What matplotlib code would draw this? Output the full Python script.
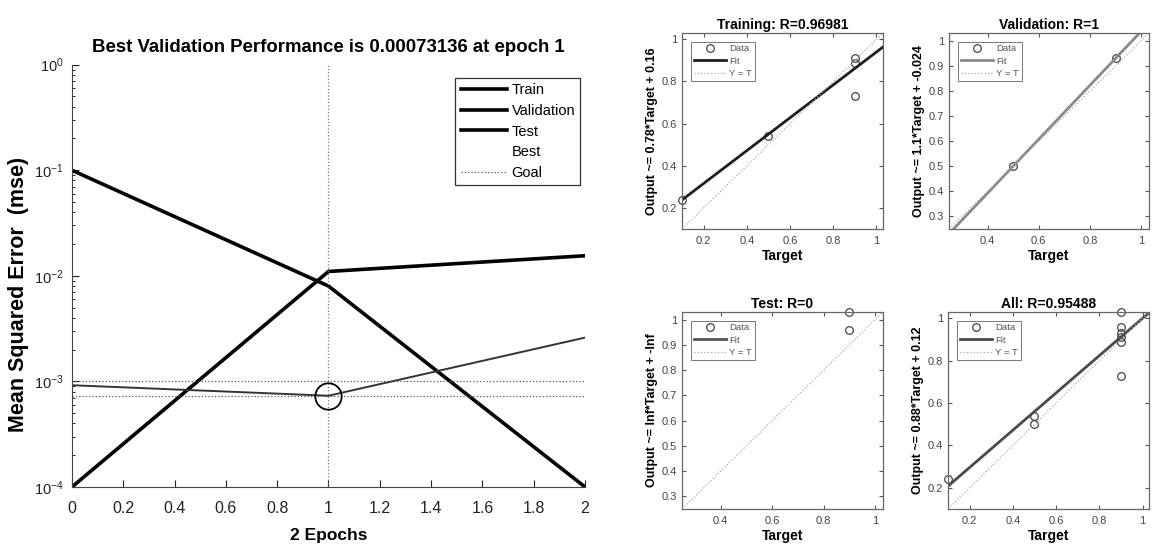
import matplotlib
matplotlib.use("Agg")
import matplotlib.pyplot as plt
import numpy as np
from matplotlib.ticker import LogLocator, FixedLocator
from matplotlib.lines import Line2D

plt.rcParams['font.family'] = ['Liberation Sans', 'DejaVu Sans']

# ---------------- data: performance plot ----------------
epochs = [0, 1, 2]
train_mse = [0.1, 0.0080, 0.0001]
val_mse = [0.0001, 0.011, 0.0155]
test_mse = [0.00092, 0.00073136, 0.0026]
best_epoch = 1
best_perf = 0.00073136
goal = 0.001
perf_xticks = [0, 0.2, 0.4, 0.6, 0.8, 1, 1.2, 1.4, 1.6, 1.8, 2]

# ---------------- data: regression plots ----------------
train_t = [0.1, 0.5, 0.9, 0.9, 0.9]
train_y = [0.24, 0.54, 0.73, 0.89, 0.91]
val_t = [0.5, 0.9]
val_y = [0.50, 0.93]
test_t = [0.9, 0.9]
test_y = [0.96, 1.03]
all_t = train_t + val_t + test_t
all_y = train_y + val_y + test_y

panel_titles = ["Training: R=0.96981", "Validation: R=1", "Test: R=0", "All: R=0.95488"]
panel_ylabels = ["Output ~= 0.78*Target + 0.16", "Output ~= 1.1*Target + -0.024",
                 "Output ~= Inf*Target + -Inf", "Output ~= 0.88*Target + 0.12"]
panel_targets = [train_t, val_t, test_t, all_t]
panel_outputs = [train_y, val_y, test_y, all_y]
fit_slopes = [0.78, 1.075, None, 0.88]
fit_intercepts = [0.16, -0.0375, None, 0.12]
panel_limits = [(0.1, 1.03), (0.25, 1.03), (0.25, 1.03), (0.1, 1.03)]
panel_xticks = [[0.2, 0.4, 0.6, 0.8, 1], [0.4, 0.6, 0.8, 1],
                [0.4, 0.6, 0.8, 1], [0.2, 0.4, 0.6, 0.8, 1]]
panel_yticks = [[0.2, 0.4, 0.6, 0.8, 1], [0.3, 0.4, 0.5, 0.6, 0.7, 0.8, 0.9, 1],
                [0.3, 0.4, 0.5, 0.6, 0.7, 0.8, 0.9, 1], [0.2, 0.4, 0.6, 0.8, 1]]
fit_colors = ["#1e1e1e", "#8a8a8a", "#555555", "#4a4a4a"]

fig = plt.figure(figsize=(11.53, 5.52), dpi=100)

# ---------------- performance axes ----------------
ax = fig.add_axes([0.0624, 0.1178, 0.445, 0.765])
ax.set_yscale('log')
l1, = ax.plot(epochs, train_mse, color='black', lw=2.6, label='Train')
l2, = ax.plot(epochs, val_mse, color='black', lw=2.6, label='Validation')
l3, = ax.plot(epochs, test_mse, color='#333333', lw=1.4)
ax.axvline(best_epoch, color='#777777', lw=0.9, ls=':')
ax.axhline(best_perf, color='#555555', lw=0.9, ls=':')
l5 = ax.axhline(goal, color='#555555', lw=0.9, ls=':', label='Goal')
ax.plot([best_epoch], [best_perf], marker='o', ms=19, mfc='none', mec='black', mew=1.3)
ax.set_xlim(0, 2)
ax.set_ylim(1e-4, 1)
ax.xaxis.set_major_locator(FixedLocator(perf_xticks))
ax.set_xticklabels([('%g' % v) for v in perf_xticks])
ax.yaxis.set_major_locator(LogLocator(base=10, numticks=10))
ax.yaxis.set_minor_locator(LogLocator(base=10, subs=np.arange(2, 10), numticks=10))
ax.tick_params(direction='in', labelsize=11.5, colors='#222222', length=5,
               top=False, right=False)
ax.tick_params(axis='x', pad=10)
ax.tick_params(axis='y', pad=6, labelsize=10.5)
ax.tick_params(which='minor', direction='in', length=2.5)
for s in ['top', 'right']:
    ax.spines[s].set_visible(False)
for s in ['left', 'bottom']:
    ax.spines[s].set_color('#444444')
ax.set_title('Best Validation Performance is 0.00073136 at epoch 1', fontsize=13.4,
             fontweight='bold', pad=9)
ax.set_xlabel('2 Epochs', fontsize=12.5, fontweight='bold', labelpad=9)
ax.set_ylabel('Mean Squared Error  (mse)', fontsize=15.5, fontweight='bold')
ax.yaxis.set_label_coords(-0.084, 0.457)
best_h = Line2D([], [], color='none')
test_h = Line2D([], [], color='black', lw=2.6)
leg = ax.legend([l1, l2, test_h, best_h, l5], ['Train', 'Validation', 'Test', 'Best', 'Goal'],
                loc='upper right', bbox_to_anchor=(1.005, 0.985), fontsize=10.5,
                fancybox=False, edgecolor='#333333', framealpha=1,
                handlelength=3.2, handletextpad=0.3, borderpad=0.35, labelspacing=0.45)
leg.get_frame().set_linewidth(0.9)

# ---------------- regression axes ----------------
positions = [
    [0.5915, 0.5851, 0.1743, 0.3551],
    [0.8231, 0.5851, 0.1735, 0.3551],
    [0.5915, 0.0779, 0.1743, 0.3570],
    [0.8222, 0.0779, 0.1744, 0.3570],
]

for i, pos in enumerate(positions):
    a = fig.add_axes(pos)
    lo, hi = panel_limits[i]
    xs = np.array([lo, hi])
    a.plot(panel_targets[i], panel_outputs[i], 'o', ms=5.5, mfc='none', mec='#444444',
           mew=0.9, label='Data', clip_on=False)
    m, b = fit_slopes[i], fit_intercepts[i]
    if m is not None:
        a.plot(xs, m * xs + b, color=fit_colors[i], lw=2.0, label='Fit')
    else:
        a.plot([], [], color=fit_colors[i], lw=2.0, label='Fit')
    a.plot(xs, xs, color='#aaaaaa', lw=0.9, ls=':', label='Y = T')
    a.set_xlim(lo, hi)
    a.set_ylim(lo, hi)
    xt, yt = panel_xticks[i], panel_yticks[i]
    a.set_xticks(xt)
    a.set_yticks(yt)
    a.set_xticklabels([('%g' % v) for v in xt])
    a.set_yticklabels([('%g' % v) for v in yt])
    a.tick_params(direction='in', labelsize=8, colors='#555555', length=3,
                  top=True, right=True, labelcolor='#444444')
    a.tick_params(axis='x', pad=5)
    for s in a.spines.values():
        s.set_color('#666666')
        s.set_linewidth(0.9)
    a.set_title(panel_titles[i], fontsize=10, fontweight='bold', pad=3)
    a.set_xlabel('Target', fontsize=10, fontweight='bold', labelpad=2)
    a.set_ylabel(panel_ylabels[i], fontsize=9, fontweight='bold', labelpad=3)
    lg = a.legend(loc='upper left', bbox_to_anchor=(0.02, 0.98), fontsize=6.8,
                  fancybox=False, edgecolor='#777777', framealpha=1,
                  handlelength=3.4, handletextpad=0.4, borderpad=0.3, labelspacing=0.35)
    lg.get_frame().set_linewidth(0.7)
    for txt in lg.get_texts():
        txt.set_color('#555555')

fig.savefig('out.png', dpi=100)
